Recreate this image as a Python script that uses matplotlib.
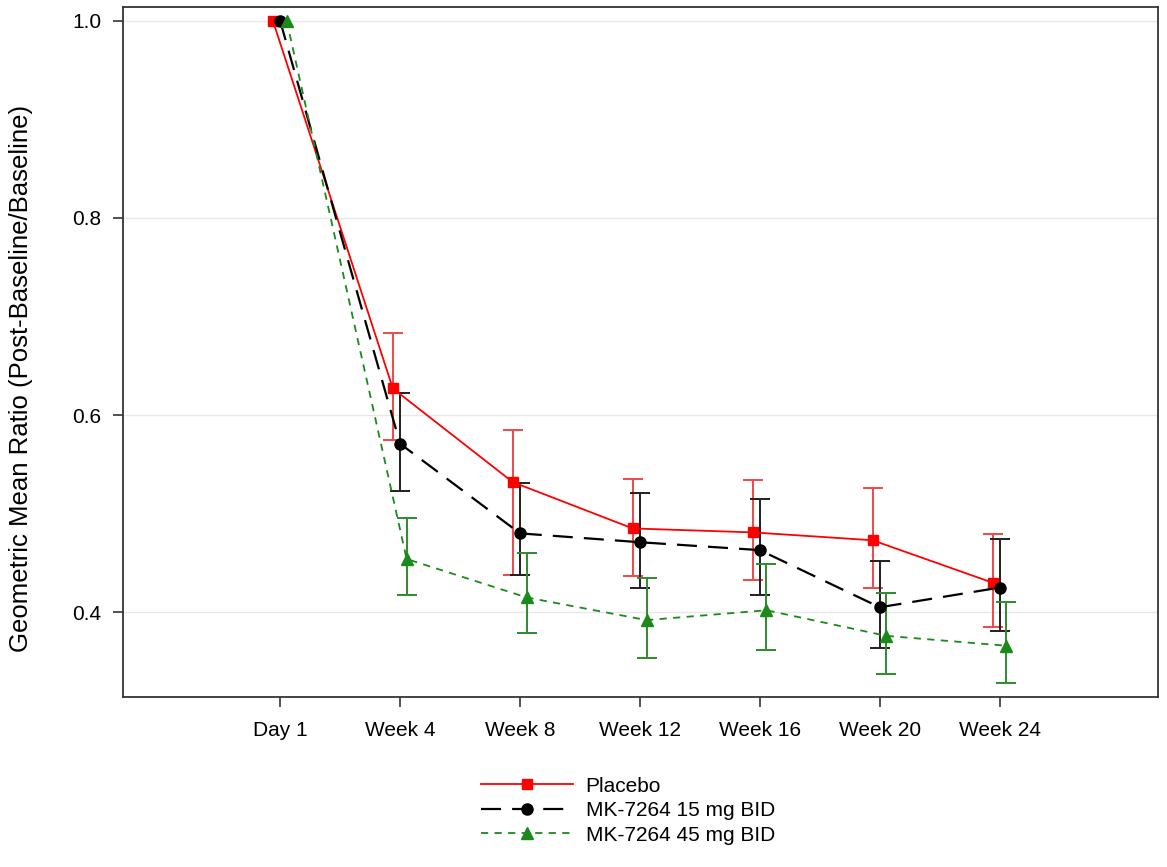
import matplotlib
matplotlib.use("Agg")
import matplotlib.pyplot as plt
import numpy as np

plt.rcParams['font.family'] = ['Liberation Sans', 'DejaVu Sans']

visits = ["Day 1", "Week 4", "Week 8", "Week 12", "Week 16", "Week 20", "Week 24"]

placebo_mean = [1.0, 0.627, 0.532, 0.485, 0.481, 0.473, 0.430]
placebo_lo   = [None, 0.575, 0.438, 0.437, 0.433, 0.425, 0.385]
placebo_hi   = [None, 0.683, 0.585, 0.535, 0.534, 0.526, 0.479]

mk15_mean = [1.0, 0.571, 0.480, 0.471, 0.463, 0.405, 0.425]
mk15_lo   = [None, 0.523, 0.438, 0.425, 0.417, 0.364, 0.381]
mk15_hi   = [None, 0.622, 0.531, 0.521, 0.515, 0.452, 0.474]

mk45_mean = [1.0, 0.454, 0.415, 0.392, 0.402, 0.376, 0.366]
mk45_lo   = [None, 0.417, 0.379, 0.354, 0.362, 0.337, 0.328]
mk45_hi   = [None, 0.496, 0.460, 0.435, 0.449, 0.420, 0.410]

series_names = ["Placebo", "MK-7264 15 mg BID", "MK-7264 45 mg BID"]

fig = plt.figure(figsize=(11.67, 8.67), dpi=100)
ax = fig.add_axes([0.1054, 0.1961, 0.8869, 0.7958])

x = np.arange(len(visits))
styles = [
    dict(color="#ff0000", ecolor="#f04848", marker="s", ms=6.5, ls="-", lw=1.3, dashes=None, off=-0.06),
    dict(color="#000000", ecolor="#202020", marker="o", ms=8, ls="--", lw=1.6, dashes=(9, 5), off=0.0),
    dict(color="#1a8a1a", ecolor="#2e8b2e", marker="^", ms=8, ls="--", lw=1.3, dashes=(4, 3.5), off=0.055),
]
data = [(placebo_mean, placebo_lo, placebo_hi),
        (mk15_mean, mk15_lo, mk15_hi),
        (mk45_mean, mk45_lo, mk45_hi)]

handles = []
for (m, lo, hi), st, name in zip(data, styles, series_names):
    xs = x + st["off"]
    m = np.array(m)
    idx = [i for i in range(len(m)) if lo[i] is not None]
    lo_arr = np.array([lo[i] for i in idx])
    hi_arr = np.array([hi[i] for i in idx])
    ax.errorbar(xs[idx], m[idx], yerr=[m[idx] - lo_arr, hi_arr - m[idx]],
                fmt="none", ecolor=st["ecolor"], elinewidth=1.4, capsize=7.5,
                capthick=1.4, zorder=2)
    line, = ax.plot(xs, m, color=st["color"], lw=st["lw"], ls=st["ls"],
                    marker=st["marker"], ms=st["ms"], mfc=st["color"],
                    mec=st["color"], label=name, zorder=3)
    if st["dashes"]:
        line.set_dashes(st["dashes"])
    handles.append(line)

ax.set_xlim(-1.31, 7.32)
ax.set_ylim(0.314, 1.014)
ax.set_xticks(x)
ax.set_xticklabels(visits, fontsize=15)
ax.set_yticks([0.4, 0.6, 0.8, 1.0])
ax.set_yticklabels(["0.4", "0.6", "0.8", "1.0"], fontsize=15)
ax.tick_params(direction="out", length=7.5, width=1.2, color="#333333", pad=8)
ax.tick_params(axis="x", pad=10)
ax.yaxis.grid(True, color="#e8e8e8", lw=1)
ax.set_axisbelow(True)
for sp in ax.spines.values():
    sp.set_color("#333333")
    sp.set_linewidth(1.3)
ax.set_ylabel("Geometric Mean Ratio (Post-Baseline/Baseline)", fontsize=18.5)
ax.yaxis.set_label_coords(-0.087, 0.462)

fig.legend(handles=handles, loc="upper center", bbox_to_anchor=(0.538, 0.126),
           frameon=False, fontsize=15, handlelength=4.4, labelspacing=0.27,
           handletextpad=0.62)

fig.savefig("out.png", dpi=100)
